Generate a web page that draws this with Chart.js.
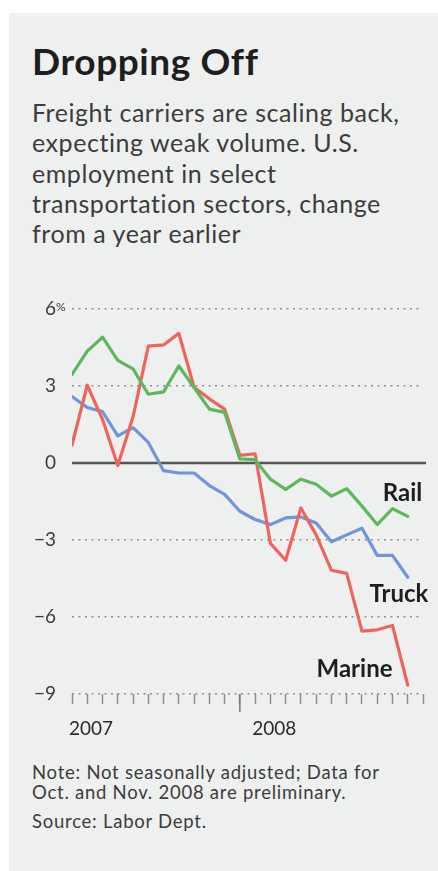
<!DOCTYPE html>
<html>
<head>
<meta charset="utf-8">
<script src="https://cdn.jsdelivr.net/npm/chart.js@4"></script>
<style>
  body { margin: 0; background: #fff; width: 438px; height: 871px; position: relative; overflow: hidden; font-family: Lato, sans-serif; }
  #panel { position: absolute; left: 9px; top: 13px; width: 429px; height: 858px; background: #eeefef; }
  .txt { position: absolute; left: 32px; white-space: nowrap; }
  #title { top: 41px; font: 700 37px/40px Lato, sans-serif; letter-spacing: 0.6px; color: #1e1e1e; }
  #sub { top: 97px; font: 400 25px/30.3px Lato, sans-serif; letter-spacing: 0.55px; color: #3c3c3c; }
  #note { top: 762px; font: 400 18.5px/20px Lato, sans-serif; letter-spacing: 0.75px; color: #3c3c3c; }
  #source { top: 811px; font: 400 18.5px/20px Lato, sans-serif; letter-spacing: 0.75px; color: #3c3c3c; }
  #chart { position: absolute; left: 0; top: 280px; }
</style>
</head>
<body>
<div id="panel"></div>
<div id="title" class="txt">Dropping Off</div>
<div id="sub" class="txt">Freight carriers are scaling back,<br>expecting weak volume. U.S.<br>employment in select<br>transportation sectors, change<br>from a year earlier</div>
<div id="note" class="txt">Note: Not seasonally adjusted; Data for<br>Oct. and Nov. 2008 are preliminary.</div>
<div id="source" class="txt">Source: Labor Dept.</div>
<canvas id="chart" width="438" height="460"></canvas>
<script>
const months = ['Jan 2007', 'Feb 2007', 'Mar 2007', 'Apr 2007', 'May 2007', 'Jun 2007',
  'Jul 2007', 'Aug 2007', 'Sep 2007', 'Oct 2007', 'Nov 2007', 'Dec 2007',
  'Jan 2008', 'Feb 2008', 'Mar 2008', 'Apr 2008', 'May 2008', 'Jun 2008',
  'Jul 2008', 'Aug 2008', 'Sep 2008', 'Oct 2008', 'Nov 2008'];

// % change from a year earlier
const rail = [3.45, 4.36, 4.9, 4.0, 3.67, 2.68, 2.77, 3.78, 2.94, 2.1, 1.97, 0.16,
  0.13, -0.63, -1.03, -0.63, -0.83, -1.29, -1.0, -1.68, -2.4, -1.78, -2.08];
const truck = [2.59, 2.16, 2.0, 1.06, 1.38, 0.8, -0.3, -0.39, -0.39, -0.88, -1.22, -1.88,
  -2.2, -2.4, -2.14, -2.1, -2.34, -3.07, -2.8, -2.54, -3.6, -3.6, -4.45];
const marine = [0.7, 3.03, 1.7, -0.1, 1.8, 4.55, 4.6, 5.05, 2.95, 2.5, 2.1, 0.3,
  0.36, -3.13, -3.79, -1.75, -2.8, -4.18, -4.3, -6.55, -6.5, -6.33, -8.65];

const yTicks = [-9, -6, -3, 0, 3, 6];
const yearTicks = [0, 12];
const yearNames = ['2007', '2008'];
const yearBreak = 11;

const seriesNames = ['Rail', 'Truck', 'Marine'];
const seriesColors = ['#58bb58', '#6f95dc', '#f0655b'];
// where each series name sits, in axis units (month index, percent)
const nameX = [22.95, 23.35, 21.0];
const nameY = [-1.48, -5.41, -8.34];

const toPoints = arr => arr.map((v, i) => ({ x: i, y: v }));

const extras = {
  id: 'extras',
  beforeDatasetsDraw(chart) {
    const { ctx, chartArea, scales: { y } } = chart;
    const zy = y.getPixelForValue(0);
    ctx.save();
    ctx.strokeStyle = '#555';
    ctx.lineWidth = 2.5;
    ctx.beginPath();
    ctx.moveTo(chartArea.left, zy);
    ctx.lineTo(chartArea.right + 3, zy);
    ctx.stroke();
    ctx.restore();
  },
  afterDraw(chart) {
    const { ctx, chartArea, scales: { x, y } } = chart;
    ctx.save();
    // longer tick at the turn of the year
    const bx = x.getPixelForValue(yearBreak);
    ctx.strokeStyle = '#777';
    ctx.lineWidth = 1.5;
    ctx.beginPath();
    ctx.moveTo(bx, chartArea.bottom);
    ctx.lineTo(bx, chartArea.bottom + 18);
    ctx.stroke();

    // % sign on the top tick
    ctx.fillStyle = '#3c3c3c';
    ctx.font = '12px Lato, sans-serif';
    ctx.textAlign = 'left';
    ctx.textBaseline = 'top';
    ctx.fillText('%', 56, y.getPixelForValue(6) - 8);

    // series names
    ctx.fillStyle = '#1e1e1e';
    ctx.font = 'bold 24px Lato, sans-serif';
    ctx.textAlign = 'right';
    ctx.textBaseline = 'alphabetic';
    seriesNames.forEach((name, i) => {
      ctx.fillText(name, x.getPixelForValue(nameX[i]), y.getPixelForValue(nameY[i]));
    });
    ctx.restore();
  }
};

const ctx = document.getElementById('chart').getContext('2d');
new Chart(ctx, {
  type: 'line',
  data: {
    labels: months,
    datasets: [
      { label: seriesNames[0], data: toPoints(rail), borderColor: seriesColors[0] },
      { label: seriesNames[2], data: toPoints(marine), borderColor: seriesColors[2] },
      { label: seriesNames[1], data: toPoints(truck), borderColor: seriesColors[1] }
    ]
  },
  options: {
    responsive: false,
    animation: false,
    events: [],
    layout: { padding: { top: 29, right: 15, bottom: 0, left: 0 } },
    elements: {
      line: { borderWidth: 3.2, tension: 0, borderJoinStyle: 'round', borderCapStyle: 'round' },
      point: { radius: 0 }
    },
    plugins: { legend: { display: false }, tooltip: { enabled: false } },
    scales: {
      x: {
        type: 'linear',
        min: 0,
        max: 23,
        afterFit: s => { s.height = 46; },
        border: { display: false },
        grid: {
          drawOnChartArea: false,
          drawTicks: true,
          tickLength: 10,
          tickColor: '#8c8c8c',
          tickWidth: 1.5
        },
        ticks: {
          stepSize: 1,
          maxTicksLimit: 100,
          autoSkip: false,
          maxRotation: 0,
          align: 'start',
          labelOffset: -3,
          padding: 13,
          color: '#2a2a2a',
          font: { family: 'Lato, sans-serif', size: 19 },
          callback: v => {
            const k = yearTicks.indexOf(v);
            return k >= 0 ? yearNames[k] : '';
          }
        }
      },
      y: {
        min: -9,
        max: 6,
        afterFit: s => { s.width = 72; },
        afterBuildTicks: s => { s.ticks = yTicks.map(v => ({ value: v })); },
        border: { display: false, dash: [2, 4.5] },
        grid: {
          drawTicks: false,
          lineWidth: 1.5,
          color: c => (c.tick && c.tick.value === 0) ? 'rgba(0,0,0,0)' : '#8f8f8f'
        },
        ticks: {
          padding: 16,
          color: '#3c3c3c',
          font: { family: 'Lato, sans-serif', size: 19 },
          callback: v => v < 0 ? '\u2212' + Math.abs(v) : String(v)
        }
      }
    }
  },
  plugins: [extras]
});
</script>
</body>
</html>
